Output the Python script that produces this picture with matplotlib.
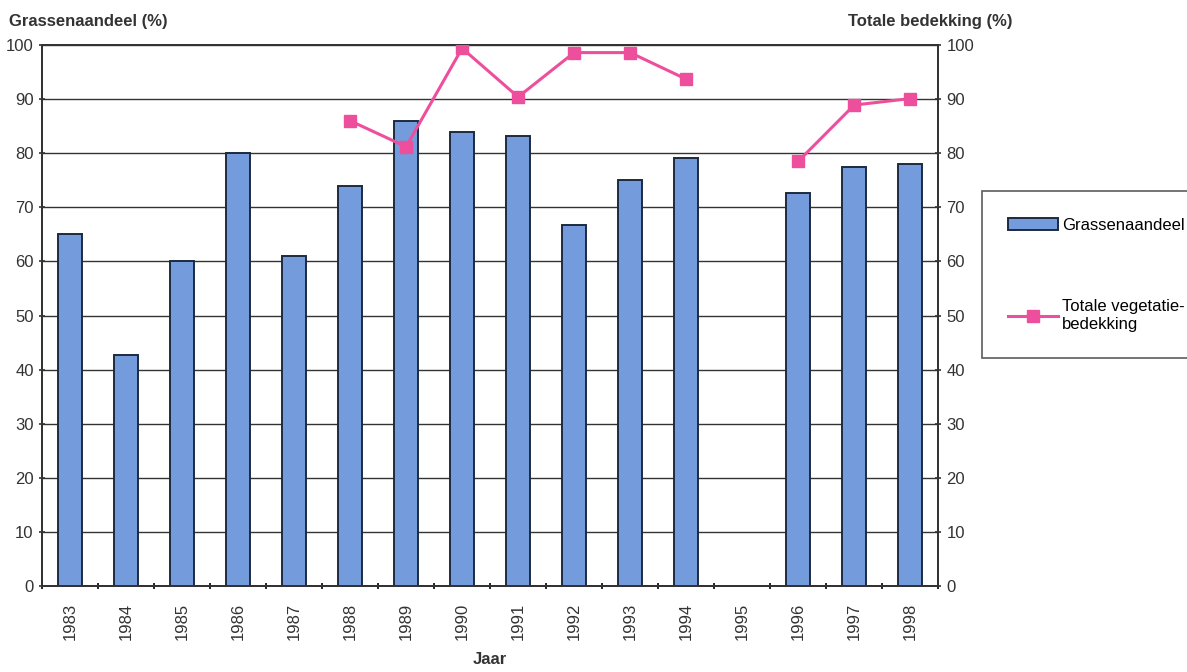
import numpy as np
import matplotlib
matplotlib.use("Agg")
import matplotlib.pyplot as plt
from matplotlib.ticker import MultipleLocator, FixedLocator

plt.rcParams['font.family'] = ['Liberation Sans', 'DejaVu Sans']

years = ["1983", "1984", "1985", "1986", "1987", "1988", "1989", "1990",
         "1991", "1992", "1993", "1994", "1995", "1996", "1997", "1998"]
grassen = [65, 42.7, 60, 80, 61, 74, 86, 84, 83.2, 66.8, 75, 79.1,
           np.nan, 72.6, 77.5, 78]
bedekking = [np.nan, np.nan, np.nan, np.nan, np.nan, 86, 81.2, 99.4, 90.4,
             98.6, 98.6, 93.7, np.nan, 78.5, 88.9, 90.1]

fig = plt.figure(figsize=(11.87, 6.72), dpi=100)
ax = fig.add_axes([0.0354, 0.128, 0.755, 0.805])
x = np.arange(len(years))

ax.set_axisbelow(True)
ax.yaxis.grid(True, color="#333333", linewidth=1.0)
bars = ax.bar(x, grassen, width=0.43, color="#749bdc", edgecolor="#1c2a40",
              linewidth=1.4, label="Grassenaandeel", zorder=2)
ax.set_xlim(-0.5, len(years) - 0.5)
ax.set_ylim(0, 100)
ax.yaxis.set_major_locator(MultipleLocator(10))
ax.set_xticks(x)
ax.set_xticklabels(years, rotation=90, fontsize=12, color="#333333")
ax.tick_params(axis="x", length=0, pad=12)
ax.xaxis.set_minor_locator(FixedLocator(np.arange(-0.5, len(years), 1.0)))
ax.tick_params(axis="x", which="minor", length=5, direction="inout", width=1.2)
ax.tick_params(axis="y", labelsize=12, length=5, direction="inout", width=1.2,
               colors="#333333")
for s in ax.spines.values():
    s.set_color("#333333")
    s.set_linewidth(1.4)

ax2 = ax.twinx()
line, = ax2.plot(x, bedekking, color="#ee4f9c", linewidth=2.2, marker="s",
                 markersize=9, label="Totale vegetatie-\nbedekking", zorder=3)
ax2.set_ylim(0, 100)
ax2.yaxis.set_major_locator(MultipleLocator(10))
ax2.tick_params(axis="y", labelsize=12, length=5, direction="inout", width=1.2,
                colors="#333333")
for s in ax2.spines.values():
    s.set_color("#333333")
    s.set_linewidth(1.4)

fig.text(0.008, 0.962, "Grassenaandeel (%)", fontsize=12, fontweight="bold",
         color="#333333")
fig.text(0.853, 0.962, "Totale bedekking (%)", fontsize=12, fontweight="bold",
         color="#333333", ha="right")
fig.text(0.413, 0.012, "Jaar", fontsize=12, fontweight="bold", color="#333333",
         ha="center")

leg = fig.legend([bars, line], ["Grassenaandeel", "Totale vegetatie-\nbedekking"],
                 loc="upper left", bbox_to_anchor=(0.827, 0.716),
                 fontsize=12, frameon=True, fancybox=False, edgecolor="#333333",
                 labelspacing=4.0, handlelength=3.0, handletextpad=0.2,
                 borderpad=1.6, borderaxespad=0)
leg.get_frame().set_linewidth(1.2)

fig.savefig("out.png", dpi=100)
